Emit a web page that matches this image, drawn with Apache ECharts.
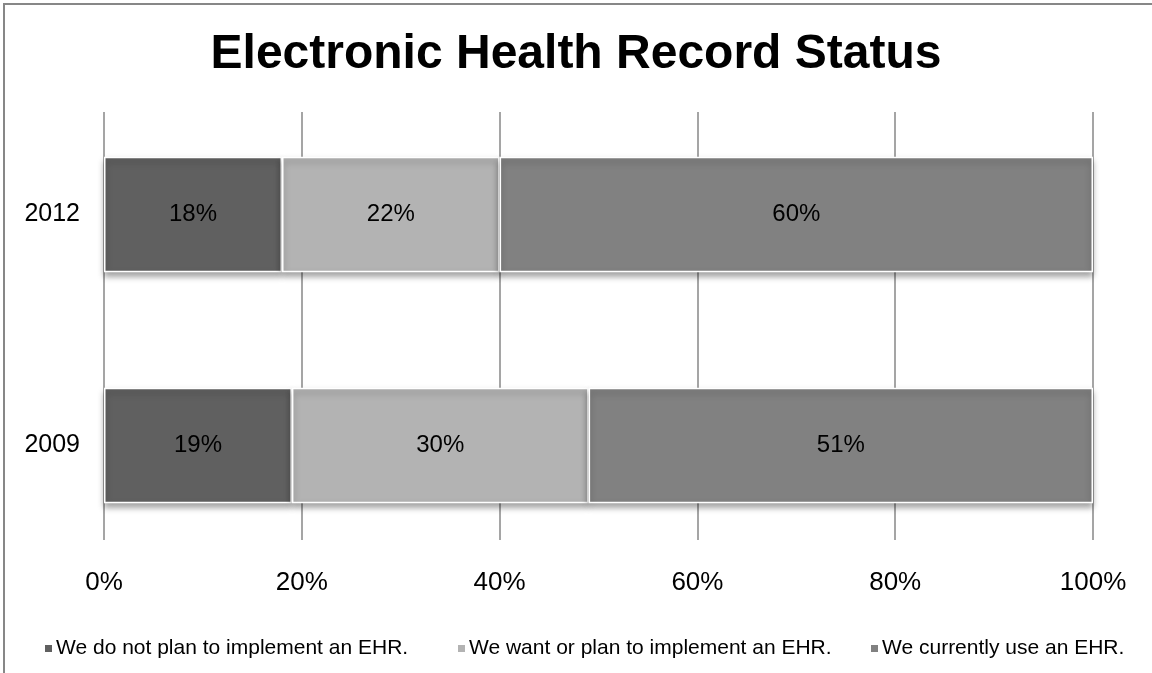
<!DOCTYPE html>
<html>
<head>
<meta charset="utf-8">
<script src="https://cdn.jsdelivr.net/npm/echarts@6/dist/echarts.min.js"></script>
<style>
  html, body { margin: 0; padding: 0; background: #ffffff; }
  #chart { width: 1152px; height: 673px; }
</style>
</head>
<body>
<div id="chart"></div>
<script>
// Survey years (bottom to top) and share of respondents per answer, in percent
const years = ['2009', '2012'];
const seriesNames = [
  'We do not plan to implement an EHR.',
  'We want or plan to implement an EHR.',
  'We currently use an EHR.'
];
const noPlan = [19, 18];
const wantPlan = [30, 22];
const currentlyUse = [51, 60];
const seriesValues = [noPlan, wantPlan, currentlyUse];
const seriesColors = ['#606060', '#b3b3b3', '#818181'];
const axisTicks = [0, 20, 40, 60, 80, 100];

const FONT = '"Liberation Sans", Arial, Helvetica, sans-serif';
const GRID_COLOR = '#878787';

const chart = echarts.init(document.getElementById('chart'), null, { renderer: 'canvas' });

const series = seriesNames.map((name, i) => ({
  name: name,
  type: 'bar',
  stack: 'total',
  xAxisIndex: 0,
  yAxisIndex: 0,
  barCategoryGap: '50%',
  data: seriesValues[i],
  itemStyle: {
    color: seriesColors[i],
    borderColor: '#ffffff',
    borderWidth: 1.5,
    shadowColor: 'rgba(0,0,0,0.35)',
    shadowBlur: 6,
    shadowOffsetY: 4
  },
  label: {
    show: true,
    position: 'inside',
    formatter: '{c}%',
    color: '#000000',
    fontFamily: FONT,
    fontSize: 24
  },
  emphasis: { disabled: true }
}));

// one legend block per entry, laid out in equal-width slots along the bottom
const legendLefts = [43, 456, 869];
const legends = seriesNames.map((name, i) => ({
  data: [name],
  left: legendLefts[i],
  bottom: 14,
  padding: 0,
  icon: 'rect',
  itemWidth: 9,
  itemHeight: 9,
  selectedMode: false,
  textStyle: {
    fontFamily: FONT,
    fontSize: 21,
    color: '#000000',
    padding: [0, 0, 0, -2]
  }
}));

const valueAxisBase = {
  type: 'value',
  min: axisTicks[0],
  max: axisTicks[axisTicks.length - 1],
  interval: axisTicks[1] - axisTicks[0],
  axisLine: { show: false },
  axisTick: { show: false }
};

chart.setOption({
  animation: false,
  backgroundColor: '#ffffff',
  title: {
    text: 'Electronic Health Record Status',
    left: 'center',
    top: 26,
    textStyle: {
      fontFamily: FONT,
      fontWeight: 'bold',
      fontSize: 48,
      color: '#000000'
    }
  },
  legend: legends,
  grid: [
    // category bands for the bars
    { left: 104, right: 59, top: 99, bottom: 112 },
    // vertical gridlines and percentage scale
    { left: 104, right: 59, top: 112, bottom: 133 }
  ],
  xAxis: [
    Object.assign({}, valueAxisBase, {
      gridIndex: 0,
      axisLabel: { show: false },
      splitLine: { show: false }
    }),
    Object.assign({}, valueAxisBase, {
      gridIndex: 1,
      axisLabel: {
        formatter: '{value}%',
        margin: 30,
        fontFamily: FONT,
        fontSize: 26,
        color: '#000000'
      },
      splitLine: {
        show: true,
        lineStyle: { color: GRID_COLOR, width: 1.5 }
      }
    })
  ],
  yAxis: [
    {
      type: 'category',
      gridIndex: 0,
      data: years,
      axisLine: { show: false },
      axisTick: { show: false },
      axisLabel: {
        margin: 24,
        fontFamily: FONT,
        fontSize: 25,
        color: '#000000'
      }
    },
    {
      type: 'category',
      gridIndex: 1,
      data: years,
      show: false
    }
  ],
  graphic: [
    // chart frame along the top and left edges
    {
      type: 'polyline',
      silent: true,
      shape: { points: [[4, 673], [4, 4], [1152, 4]] },
      style: { stroke: GRID_COLOR, lineWidth: 2, fill: null }
    }
  ],
  series: series
});
</script>
</body>
</html>
